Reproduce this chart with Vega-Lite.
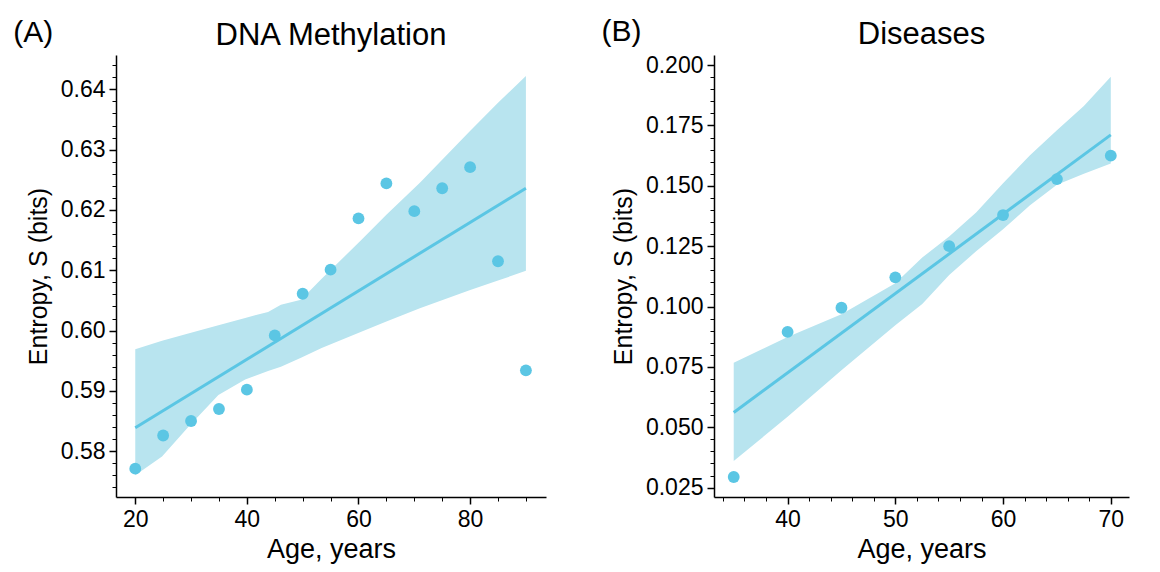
{
  "$schema": "https://vega.github.io/schema/vega-lite/v6.json",
  "padding": {"left": 13, "top": 17, "right": 5, "bottom": 5},
  "config": {
    "font": "Liberation Sans",
    "view": {"stroke": null},
    "axis": {
      "grid": false,
      "domainColor": "#000000",
      "domainWidth": 1.5,
      "tickColor": "#000000",
      "tickWidth": 1.5,
      "tickSize": 7,
      "labelColor": "#000000",
      "labelFontSize": 23,
      "labelPadding": 4,
      "titleColor": "#000000",
      "titleFontSize": 27,
      "titleFontWeight": "normal"
    },
    "title": {"fontSize": 31, "fontWeight": "normal", "color": "#000000"}
  },
  "datasets": {
    "methPoints": [
      {"age": 20, "entropy": 0.5771},
      {"age": 25, "entropy": 0.5826},
      {"age": 30, "entropy": 0.5850},
      {"age": 35, "entropy": 0.5870},
      {"age": 40, "entropy": 0.5902},
      {"age": 45, "entropy": 0.5992},
      {"age": 50, "entropy": 0.6061},
      {"age": 55, "entropy": 0.6101},
      {"age": 60, "entropy": 0.6186},
      {"age": 65, "entropy": 0.6244},
      {"age": 70, "entropy": 0.6198},
      {"age": 75, "entropy": 0.6236},
      {"age": 80, "entropy": 0.6271},
      {"age": 85, "entropy": 0.6115},
      {"age": 90, "entropy": 0.5934}
    ],
    "methFit": [
      {"age": 20, "fit": 0.5839},
      {"age": 90, "fit": 0.6236}
    ],
    "methBand": [
      {"age": 20, "lo": 0.5760, "hi": 0.5969},
      {"age": 24.8, "lo": 0.5791, "hi": 0.5983},
      {"age": 29.5, "lo": 0.5840, "hi": 0.5995},
      {"age": 34.9, "lo": 0.5893, "hi": 0.6009},
      {"age": 39.7, "lo": 0.5919, "hi": 0.6021},
      {"age": 43.8, "lo": 0.5933, "hi": 0.6031},
      {"age": 46.1, "lo": 0.5940, "hi": 0.6043},
      {"age": 49.7, "lo": 0.5955, "hi": 0.6051},
      {"age": 53.4, "lo": 0.5971, "hi": 0.6086},
      {"age": 60.5, "lo": 0.5998, "hi": 0.6150},
      {"age": 65, "lo": 0.6015, "hi": 0.6192},
      {"age": 71, "lo": 0.6037, "hi": 0.6245},
      {"age": 79.9, "lo": 0.6067, "hi": 0.6330},
      {"age": 85, "lo": 0.6083, "hi": 0.6378},
      {"age": 90, "lo": 0.6099, "hi": 0.6422}
    ],
    "disPoints": [
      {"age": 35, "entropy": 0.0294},
      {"age": 40, "entropy": 0.0895},
      {"age": 45, "entropy": 0.0995},
      {"age": 50, "entropy": 0.1121},
      {"age": 55, "entropy": 0.1250},
      {"age": 60, "entropy": 0.1379},
      {"age": 65, "entropy": 0.1528},
      {"age": 70, "entropy": 0.1625}
    ],
    "disFit": [
      {"age": 35, "fit": 0.0561},
      {"age": 70, "fit": 0.1711}
    ],
    "disBand": [
      {"age": 35, "lo": 0.0360, "hi": 0.0767},
      {"age": 40, "lo": 0.0543, "hi": 0.0874},
      {"age": 45, "lo": 0.0736, "hi": 0.0968},
      {"age": 50, "lo": 0.0923, "hi": 0.1096},
      {"age": 52.5, "lo": 0.1010, "hi": 0.1203},
      {"age": 55, "lo": 0.1131, "hi": 0.1290},
      {"age": 57.5, "lo": 0.1229, "hi": 0.1390},
      {"age": 60, "lo": 0.1320, "hi": 0.1511},
      {"age": 62.5, "lo": 0.1420, "hi": 0.1627},
      {"age": 65, "lo": 0.1505, "hi": 0.1730},
      {"age": 67.5, "lo": 0.1550, "hi": 0.1831},
      {"age": 70, "lo": 0.1593, "hi": 0.1952}
    ]
  },
  "hconcat": [
    {
      "title": {"text": "(A)", "anchor": "start", "frame": "bounds", "fontSize": 30, "offset": -28, "dx": -13},
      "vconcat": [
        {
          "title": {"text": "DNA Methylation", "offset": 3},
          "width": 430,
          "height": 442,
          "layer": [
            {
              "data": {"name": "methBand"},
              "mark": {"type": "area", "color": "#B8E4EF", "opacity": 1},
              "encoding": {
                "x": {
                  "field": "age", "type": "quantitative",
                  "scale": {"domain": [16.55, 93.6], "nice": false, "zero": false},
                  "axis": {"orient": "bottom", "values": [20, 25, 30, 35, 40, 45, 50, 55, 60, 65, 70, 75, 80, 85, 90], "labels": false, "domain": false, "title": null, "tickSize": 4, "tickWidth": 1}
                },
                "y": {
                  "field": "lo", "type": "quantitative",
                  "scale": {"domain": [0.5724, 0.6457], "nice": false, "zero": false},
                  "axis": {"orient": "left", "values": [0.574, 0.576, 0.578, 0.58, 0.582, 0.584, 0.586, 0.588, 0.59, 0.592, 0.594, 0.596, 0.598, 0.6, 0.602, 0.604, 0.606, 0.608, 0.61, 0.612, 0.614, 0.616, 0.618, 0.62, 0.622, 0.624, 0.626, 0.628, 0.63, 0.632, 0.634, 0.636, 0.638, 0.64, 0.642, 0.644], "labels": false, "domain": false, "title": null, "tickSize": 4, "tickWidth": 1}
                },
                "y2": {"field": "hi"}
              }
            },
            {
              "data": {"name": "methFit"},
              "mark": {"type": "line", "color": "#5BC6E4", "strokeWidth": 3},
              "encoding": {
                "x": {"field": "age", "type": "quantitative", "axis": null},
                "y": {"field": "fit", "type": "quantitative", "axis": null}
              }
            },
            {
              "data": {"name": "methPoints"},
              "mark": {"type": "circle", "color": "#5BC6E4", "opacity": 1, "size": 140},
              "encoding": {
                "x": {
                  "field": "age", "type": "quantitative",
                  "axis": {"orient": "bottom", "values": [20, 40, 60, 80], "title": "Age, years", "titlePadding": 5}
                },
                "y": {
                  "field": "entropy", "type": "quantitative",
                  "axis": {"orient": "left", "values": [0.58, 0.59, 0.6, 0.61, 0.62, 0.63, 0.64], "format": ".2f", "title": "Entropy, S (bits)", "titleFontSize": 25, "titlePadding": 9}
                }
              }
            }
          ],
          "resolve": {"axis": {"x": "independent", "y": "independent"}}
        }
      ]
    },
    {
      "title": {"text": "(B)", "anchor": "start", "frame": "bounds", "fontSize": 30, "offset": -28, "dx": -10},
      "vconcat": [
        {
          "title": {"text": "Diseases", "offset": 3},
          "width": 415,
          "height": 442,
          "layer": [
            {
              "data": {"name": "disBand"},
              "mark": {"type": "area", "color": "#B8E4EF", "opacity": 1},
              "encoding": {
                "x": {
                  "field": "age", "type": "quantitative",
                  "scale": {"domain": [33.17, 71.69], "nice": false, "zero": false},
                  "axis": {"orient": "bottom", "values": [34, 36, 38, 40, 42, 44, 46, 48, 50, 52, 54, 56, 58, 60, 62, 64, 66, 68, 70], "labels": false, "domain": false, "title": null, "tickSize": 4, "tickWidth": 1}
                },
                "y": {
                  "field": "lo", "type": "quantitative",
                  "scale": {"domain": [0.0211, 0.2042], "nice": false, "zero": false},
                  "axis": {"orient": "left", "values": [0.025, 0.03, 0.035, 0.04, 0.045, 0.05, 0.055, 0.06, 0.065, 0.07, 0.075, 0.08, 0.085, 0.09, 0.095, 0.1, 0.105, 0.11, 0.115, 0.12, 0.125, 0.13, 0.135, 0.14, 0.145, 0.15, 0.155, 0.16, 0.165, 0.17, 0.175, 0.18, 0.185, 0.19, 0.195, 0.2], "labels": false, "domain": false, "title": null, "tickSize": 4, "tickWidth": 1}
                },
                "y2": {"field": "hi"}
              }
            },
            {
              "data": {"name": "disFit"},
              "mark": {"type": "line", "color": "#5BC6E4", "strokeWidth": 3},
              "encoding": {
                "x": {"field": "age", "type": "quantitative", "axis": null},
                "y": {"field": "fit", "type": "quantitative", "axis": null}
              }
            },
            {
              "data": {"name": "disPoints"},
              "mark": {"type": "circle", "color": "#5BC6E4", "opacity": 1, "size": 140},
              "encoding": {
                "x": {
                  "field": "age", "type": "quantitative",
                  "axis": {"orient": "bottom", "values": [40, 50, 60, 70], "title": "Age, years", "titlePadding": 5}
                },
                "y": {
                  "field": "entropy", "type": "quantitative",
                  "axis": {"orient": "left", "values": [0.025, 0.05, 0.075, 0.1, 0.125, 0.15, 0.175, 0.2], "format": ".3f", "title": "Entropy, S (bits)", "titleFontSize": 25, "titlePadding": 9}
                }
              }
            }
          ],
          "resolve": {"axis": {"x": "independent", "y": "independent"}}
        }
      ]
    }
  ],
  "spacing": 55
}
